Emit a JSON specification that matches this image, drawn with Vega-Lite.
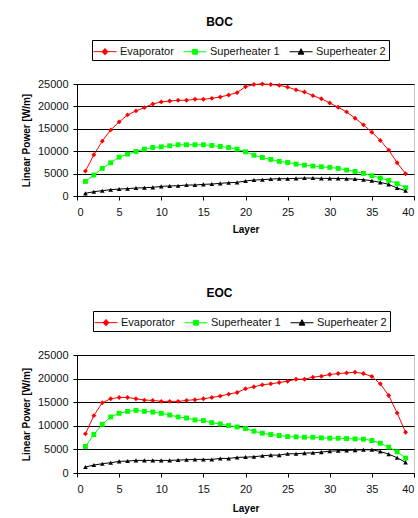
{
  "$schema": "https://vega.github.io/schema/vega-lite/v6.json",
  "padding": {"left": 20, "top": 15, "right": 0, "bottom": 0},
  "background": "white",
  "config": {
    "font": "Liberation Sans",
    "view": {"stroke": "#c8c8c8", "strokeWidth": 1},
    "title": {"font": "Liberation Sans", "fontSize": 12, "fontWeight": "bold", "color": "#000"},
    "axis": {
      "labelFont": "Liberation Sans", "labelFontSize": 11, "labelColor": "#111",
      "titleFont": "Liberation Sans", "titleFontSize": 10, "titleFontWeight": "bold", "titleColor": "#000",
      "domainColor": "#000", "tickColor": "#000", "tickSize": 4,
      "gridColor": "#000", "gridWidth": 1
    },
    "legend": {"labelFont": "Liberation Sans", "labelFontSize": 11, "labelColor": "#111"}
  },
  "data": {"values": [
    {"c":"BOC","s":"Evaporator","l":1,"p":5560},{"c":"BOC","s":"Evaporator","l":2,"p":9200},{"c":"BOC","s":"Evaporator","l":3,"p":12240},{"c":"BOC","s":"Evaporator","l":4,"p":14760},{"c":"BOC","s":"Evaporator","l":5,"p":16540},{"c":"BOC","s":"Evaporator","l":6,"p":18100},{"c":"BOC","s":"Evaporator","l":7,"p":19000},{"c":"BOC","s":"Evaporator","l":8,"p":19730},{"c":"BOC","s":"Evaporator","l":9,"p":20550},{"c":"BOC","s":"Evaporator","l":10,"p":21000},{"c":"BOC","s":"Evaporator","l":11,"p":21200},{"c":"BOC","s":"Evaporator","l":12,"p":21360},{"c":"BOC","s":"Evaporator","l":13,"p":21360},{"c":"BOC","s":"Evaporator","l":14,"p":21600},{"c":"BOC","s":"Evaporator","l":15,"p":21600},{"c":"BOC","s":"Evaporator","l":16,"p":21800},{"c":"BOC","s":"Evaporator","l":17,"p":22100},{"c":"BOC","s":"Evaporator","l":18,"p":22550},{"c":"BOC","s":"Evaporator","l":19,"p":23070},{"c":"BOC","s":"Evaporator","l":20,"p":24400},{"c":"BOC","s":"Evaporator","l":21,"p":24900},{"c":"BOC","s":"Evaporator","l":22,"p":25000},{"c":"BOC","s":"Evaporator","l":23,"p":24900},{"c":"BOC","s":"Evaporator","l":24,"p":24700},{"c":"BOC","s":"Evaporator","l":25,"p":24300},{"c":"BOC","s":"Evaporator","l":26,"p":23700},{"c":"BOC","s":"Evaporator","l":27,"p":23200},{"c":"BOC","s":"Evaporator","l":28,"p":22400},{"c":"BOC","s":"Evaporator","l":29,"p":21700},{"c":"BOC","s":"Evaporator","l":30,"p":20770},{"c":"BOC","s":"Evaporator","l":31,"p":19800},{"c":"BOC","s":"Evaporator","l":32,"p":18770},{"c":"BOC","s":"Evaporator","l":33,"p":17360},{"c":"BOC","s":"Evaporator","l":34,"p":15880},{"c":"BOC","s":"Evaporator","l":35,"p":14240},{"c":"BOC","s":"Evaporator","l":36,"p":12400},{"c":"BOC","s":"Evaporator","l":37,"p":10240},{"c":"BOC","s":"Evaporator","l":38,"p":7420},{"c":"BOC","s":"Evaporator","l":39,"p":4970},
    {"c":"BOC","s":"Superheater 1","l":1,"p":3260},{"c":"BOC","s":"Superheater 1","l":2,"p":4670},{"c":"BOC","s":"Superheater 1","l":3,"p":6160},{"c":"BOC","s":"Superheater 1","l":4,"p":7420},{"c":"BOC","s":"Superheater 1","l":5,"p":8680},{"c":"BOC","s":"Superheater 1","l":6,"p":9350},{"c":"BOC","s":"Superheater 1","l":7,"p":9940},{"c":"BOC","s":"Superheater 1","l":8,"p":10460},{"c":"BOC","s":"Superheater 1","l":9,"p":10830},{"c":"BOC","s":"Superheater 1","l":10,"p":10980},{"c":"BOC","s":"Superheater 1","l":11,"p":11200},{"c":"BOC","s":"Superheater 1","l":12,"p":11430},{"c":"BOC","s":"Superheater 1","l":13,"p":11430},{"c":"BOC","s":"Superheater 1","l":14,"p":11430},{"c":"BOC","s":"Superheater 1","l":15,"p":11430},{"c":"BOC","s":"Superheater 1","l":16,"p":11280},{"c":"BOC","s":"Superheater 1","l":17,"p":11050},{"c":"BOC","s":"Superheater 1","l":18,"p":10830},{"c":"BOC","s":"Superheater 1","l":19,"p":10460},{"c":"BOC","s":"Superheater 1","l":20,"p":9870},{"c":"BOC","s":"Superheater 1","l":21,"p":9120},{"c":"BOC","s":"Superheater 1","l":22,"p":8600},{"c":"BOC","s":"Superheater 1","l":23,"p":8160},{"c":"BOC","s":"Superheater 1","l":24,"p":7720},{"c":"BOC","s":"Superheater 1","l":25,"p":7490},{"c":"BOC","s":"Superheater 1","l":26,"p":7120},{"c":"BOC","s":"Superheater 1","l":27,"p":6900},{"c":"BOC","s":"Superheater 1","l":28,"p":6680},{"c":"BOC","s":"Superheater 1","l":29,"p":6530},{"c":"BOC","s":"Superheater 1","l":30,"p":6380},{"c":"BOC","s":"Superheater 1","l":31,"p":6160},{"c":"BOC","s":"Superheater 1","l":32,"p":5790},{"c":"BOC","s":"Superheater 1","l":33,"p":5490},{"c":"BOC","s":"Superheater 1","l":34,"p":5040},{"c":"BOC","s":"Superheater 1","l":35,"p":4530},{"c":"BOC","s":"Superheater 1","l":36,"p":4000},{"c":"BOC","s":"Superheater 1","l":37,"p":3490},{"c":"BOC","s":"Superheater 1","l":38,"p":2750},{"c":"BOC","s":"Superheater 1","l":39,"p":1850},
    {"c":"BOC","s":"Superheater 2","l":1,"p":590},{"c":"BOC","s":"Superheater 2","l":2,"p":960},{"c":"BOC","s":"Superheater 2","l":3,"p":1190},{"c":"BOC","s":"Superheater 2","l":4,"p":1410},{"c":"BOC","s":"Superheater 2","l":5,"p":1560},{"c":"BOC","s":"Superheater 2","l":6,"p":1630},{"c":"BOC","s":"Superheater 2","l":7,"p":1780},{"c":"BOC","s":"Superheater 2","l":8,"p":1850},{"c":"BOC","s":"Superheater 2","l":9,"p":1930},{"c":"BOC","s":"Superheater 2","l":10,"p":2150},{"c":"BOC","s":"Superheater 2","l":11,"p":2230},{"c":"BOC","s":"Superheater 2","l":12,"p":2300},{"c":"BOC","s":"Superheater 2","l":13,"p":2450},{"c":"BOC","s":"Superheater 2","l":14,"p":2450},{"c":"BOC","s":"Superheater 2","l":15,"p":2600},{"c":"BOC","s":"Superheater 2","l":16,"p":2670},{"c":"BOC","s":"Superheater 2","l":17,"p":2820},{"c":"BOC","s":"Superheater 2","l":18,"p":2970},{"c":"BOC","s":"Superheater 2","l":19,"p":3040},{"c":"BOC","s":"Superheater 2","l":20,"p":3340},{"c":"BOC","s":"Superheater 2","l":21,"p":3560},{"c":"BOC","s":"Superheater 2","l":22,"p":3640},{"c":"BOC","s":"Superheater 2","l":23,"p":3780},{"c":"BOC","s":"Superheater 2","l":24,"p":3860},{"c":"BOC","s":"Superheater 2","l":25,"p":3860},{"c":"BOC","s":"Superheater 2","l":26,"p":3930},{"c":"BOC","s":"Superheater 2","l":27,"p":4000},{"c":"BOC","s":"Superheater 2","l":28,"p":4000},{"c":"BOC","s":"Superheater 2","l":29,"p":3930},{"c":"BOC","s":"Superheater 2","l":30,"p":3930},{"c":"BOC","s":"Superheater 2","l":31,"p":3930},{"c":"BOC","s":"Superheater 2","l":32,"p":3860},{"c":"BOC","s":"Superheater 2","l":33,"p":3780},{"c":"BOC","s":"Superheater 2","l":34,"p":3640},{"c":"BOC","s":"Superheater 2","l":35,"p":3410},{"c":"BOC","s":"Superheater 2","l":36,"p":3040},{"c":"BOC","s":"Superheater 2","l":37,"p":2600},{"c":"BOC","s":"Superheater 2","l":38,"p":1780},{"c":"BOC","s":"Superheater 2","l":39,"p":1190},
    {"c":"EOC","s":"Evaporator","l":1,"p":8290},{"c":"EOC","s":"Evaporator","l":2,"p":12150},{"c":"EOC","s":"Evaporator","l":3,"p":14890},{"c":"EOC","s":"Evaporator","l":4,"p":15730},{"c":"EOC","s":"Evaporator","l":5,"p":16010},{"c":"EOC","s":"Evaporator","l":6,"p":16010},{"c":"EOC","s":"Evaporator","l":7,"p":15730},{"c":"EOC","s":"Evaporator","l":8,"p":15450},{"c":"EOC","s":"Evaporator","l":9,"p":15380},{"c":"EOC","s":"Evaporator","l":10,"p":15170},{"c":"EOC","s":"Evaporator","l":11,"p":15170},{"c":"EOC","s":"Evaporator","l":12,"p":15170},{"c":"EOC","s":"Evaporator","l":13,"p":15380},{"c":"EOC","s":"Evaporator","l":14,"p":15520},{"c":"EOC","s":"Evaporator","l":15,"p":15730},{"c":"EOC","s":"Evaporator","l":16,"p":16010},{"c":"EOC","s":"Evaporator","l":17,"p":16290},{"c":"EOC","s":"Evaporator","l":18,"p":16710},{"c":"EOC","s":"Evaporator","l":19,"p":17070},{"c":"EOC","s":"Evaporator","l":20,"p":17840},{"c":"EOC","s":"Evaporator","l":21,"p":18260},{"c":"EOC","s":"Evaporator","l":22,"p":18680},{"c":"EOC","s":"Evaporator","l":23,"p":18890},{"c":"EOC","s":"Evaporator","l":24,"p":19170},{"c":"EOC","s":"Evaporator","l":25,"p":19450},{"c":"EOC","s":"Evaporator","l":26,"p":19870},{"c":"EOC","s":"Evaporator","l":27,"p":19870},{"c":"EOC","s":"Evaporator","l":28,"p":20300},{"c":"EOC","s":"Evaporator","l":29,"p":20510},{"c":"EOC","s":"Evaporator","l":30,"p":20860},{"c":"EOC","s":"Evaporator","l":31,"p":21070},{"c":"EOC","s":"Evaporator","l":32,"p":21210},{"c":"EOC","s":"Evaporator","l":33,"p":21350},{"c":"EOC","s":"Evaporator","l":34,"p":21070},{"c":"EOC","s":"Evaporator","l":35,"p":20440},{"c":"EOC","s":"Evaporator","l":36,"p":18890},{"c":"EOC","s":"Evaporator","l":37,"p":16430},{"c":"EOC","s":"Evaporator","l":38,"p":12710},{"c":"EOC","s":"Evaporator","l":39,"p":8640},
    {"c":"EOC","s":"Superheater 1","l":1,"p":5620},{"c":"EOC","s":"Superheater 1","l":2,"p":8150},{"c":"EOC","s":"Superheater 1","l":3,"p":10320},{"c":"EOC","s":"Superheater 1","l":4,"p":11870},{"c":"EOC","s":"Superheater 1","l":5,"p":12640},{"c":"EOC","s":"Superheater 1","l":6,"p":13060},{"c":"EOC","s":"Superheater 1","l":7,"p":13270},{"c":"EOC","s":"Superheater 1","l":8,"p":13060},{"c":"EOC","s":"Superheater 1","l":9,"p":12920},{"c":"EOC","s":"Superheater 1","l":10,"p":12640},{"c":"EOC","s":"Superheater 1","l":11,"p":12290},{"c":"EOC","s":"Superheater 1","l":12,"p":11870},{"c":"EOC","s":"Superheater 1","l":13,"p":11660},{"c":"EOC","s":"Superheater 1","l":14,"p":11240},{"c":"EOC","s":"Superheater 1","l":15,"p":11100},{"c":"EOC","s":"Superheater 1","l":16,"p":10670},{"c":"EOC","s":"Superheater 1","l":17,"p":10390},{"c":"EOC","s":"Superheater 1","l":18,"p":10040},{"c":"EOC","s":"Superheater 1","l":19,"p":9760},{"c":"EOC","s":"Superheater 1","l":20,"p":9410},{"c":"EOC","s":"Superheater 1","l":21,"p":8850},{"c":"EOC","s":"Superheater 1","l":22,"p":8430},{"c":"EOC","s":"Superheater 1","l":23,"p":8150},{"c":"EOC","s":"Superheater 1","l":24,"p":7940},{"c":"EOC","s":"Superheater 1","l":25,"p":7720},{"c":"EOC","s":"Superheater 1","l":26,"p":7650},{"c":"EOC","s":"Superheater 1","l":27,"p":7580},{"c":"EOC","s":"Superheater 1","l":28,"p":7580},{"c":"EOC","s":"Superheater 1","l":29,"p":7440},{"c":"EOC","s":"Superheater 1","l":30,"p":7370},{"c":"EOC","s":"Superheater 1","l":31,"p":7370},{"c":"EOC","s":"Superheater 1","l":32,"p":7300},{"c":"EOC","s":"Superheater 1","l":33,"p":7230},{"c":"EOC","s":"Superheater 1","l":34,"p":7160},{"c":"EOC","s":"Superheater 1","l":35,"p":6880},{"c":"EOC","s":"Superheater 1","l":36,"p":6320},{"c":"EOC","s":"Superheater 1","l":37,"p":5480},{"c":"EOC","s":"Superheater 1","l":38,"p":4490},{"c":"EOC","s":"Superheater 1","l":39,"p":3160},
    {"c":"EOC","s":"Superheater 2","l":1,"p":1260},{"c":"EOC","s":"Superheater 2","l":2,"p":1690},{"c":"EOC","s":"Superheater 2","l":3,"p":1970},{"c":"EOC","s":"Superheater 2","l":4,"p":2180},{"c":"EOC","s":"Superheater 2","l":5,"p":2460},{"c":"EOC","s":"Superheater 2","l":6,"p":2530},{"c":"EOC","s":"Superheater 2","l":7,"p":2670},{"c":"EOC","s":"Superheater 2","l":8,"p":2670},{"c":"EOC","s":"Superheater 2","l":9,"p":2670},{"c":"EOC","s":"Superheater 2","l":10,"p":2670},{"c":"EOC","s":"Superheater 2","l":11,"p":2670},{"c":"EOC","s":"Superheater 2","l":12,"p":2740},{"c":"EOC","s":"Superheater 2","l":13,"p":2810},{"c":"EOC","s":"Superheater 2","l":14,"p":2880},{"c":"EOC","s":"Superheater 2","l":15,"p":2880},{"c":"EOC","s":"Superheater 2","l":16,"p":2880},{"c":"EOC","s":"Superheater 2","l":17,"p":3090},{"c":"EOC","s":"Superheater 2","l":18,"p":3090},{"c":"EOC","s":"Superheater 2","l":19,"p":3300},{"c":"EOC","s":"Superheater 2","l":20,"p":3370},{"c":"EOC","s":"Superheater 2","l":21,"p":3440},{"c":"EOC","s":"Superheater 2","l":22,"p":3650},{"c":"EOC","s":"Superheater 2","l":23,"p":3790},{"c":"EOC","s":"Superheater 2","l":24,"p":3790},{"c":"EOC","s":"Superheater 2","l":25,"p":4070},{"c":"EOC","s":"Superheater 2","l":26,"p":4070},{"c":"EOC","s":"Superheater 2","l":27,"p":4210},{"c":"EOC","s":"Superheater 2","l":28,"p":4280},{"c":"EOC","s":"Superheater 2","l":29,"p":4420},{"c":"EOC","s":"Superheater 2","l":30,"p":4630},{"c":"EOC","s":"Superheater 2","l":31,"p":4710},{"c":"EOC","s":"Superheater 2","l":32,"p":4780},{"c":"EOC","s":"Superheater 2","l":33,"p":4850},{"c":"EOC","s":"Superheater 2","l":34,"p":4920},{"c":"EOC","s":"Superheater 2","l":35,"p":4920},{"c":"EOC","s":"Superheater 2","l":36,"p":4560},{"c":"EOC","s":"Superheater 2","l":37,"p":4000},{"c":"EOC","s":"Superheater 2","l":38,"p":3230},{"c":"EOC","s":"Superheater 2","l":39,"p":2250}
  ]},
  "spacing": 51,
  "resolve": {"legend": {"color": "independent"}},
  "vconcat": [
    {
      "title": {"text": "BOC", "offset": 11, "dx": -26},
      "width": 337, "height": 112,
      "transform": [{"filter": "datum.c === 'BOC'"}],
      "encoding": {
        "x": {"field": "l", "type": "quantitative", "title": "Layer", "scale": {"domain": [0, 40], "nice": false},
              "axis": {"values": [0,5,10,15,20,25,30,35,40], "grid": false, "labelPadding": 6, "titlePadding": 7, "labelFlush": true}},
        "y": {"field": "p", "type": "quantitative", "title": "Linear Power [W/m]", "scale": {"domain": [0, 25000], "nice": false},
              "axis": {"values": [0,5000,10000,15000,20000,25000], "format": "d", "grid": true, "labelPadding": 5, "titlePadding": 6}}
      },
      "layer": [
        {"mark": {"type": "line", "strokeWidth": 1},
         "encoding": {"color": {"field": "s", "type": "nominal",
            "scale": {"domain": ["Evaporator", "Superheater 1", "Superheater 2"], "range": ["#ff0000", "#00ff00", "#000000"]},
            "legend": {"title": null, "orient": "none", "legendX": 15, "legendY": -44, "direction": "horizontal", "columns": 3,
              "strokeColor": "#000", "padding": 3, "columnPadding": 7, "symbolSize": 256, "labelOffset": 8,
              "encode": {"symbols": {"update": {
                "shape": {"signal": "datum.value === 'Evaporator' ? 'M-1.25,0H1.625M0.19,-0.4L0.55,0L0.19,0.4L-0.17,0Z' : datum.value === 'Superheater 1' ? 'M-1.25,0H1.625M-0.11,-0.3H0.49V0.3H-0.11Z' : 'M-1.25,0H1.625M0.19,-0.38L0.55,0.3H-0.17Z'"},
                "fill": {"signal": "datum.value === 'Evaporator' ? '#ff0000' : datum.value === 'Superheater 1' ? '#00ff00' : '#000000'"},
                "stroke": {"signal": "datum.value === 'Evaporator' ? '#ff0000' : datum.value === 'Superheater 1' ? '#00ff00' : '#000000'"},
                "strokeWidth": {"value": 1}, "opacity": {"value": 1}
              }}}}}}},
        {"transform": [{"filter": "datum.s === 'Evaporator'"}],
         "mark": {"type": "point", "filled": true, "size": 24, "opacity": 1, "shape": "diamond", "color": "#ff0000"}, "encoding": {}},
        {"transform": [{"filter": "datum.s === 'Superheater 1'"}],
         "mark": {"type": "point", "filled": true, "size": 24, "opacity": 1, "shape": "square", "color": "#00ff00"}, "encoding": {}},
        {"transform": [{"filter": "datum.s === 'Superheater 2'"}],
         "mark": {"type": "point", "filled": true, "size": 22, "opacity": 1, "shape": "triangle-up", "color": "#000000"}, "encoding": {}}
      ]
    },
    {
      "title": {"text": "EOC", "offset": 11, "dx": -26},
      "width": 337, "height": 118,
      "transform": [{"filter": "datum.c === 'EOC'"}],
      "encoding": {
        "x": {"field": "l", "type": "quantitative", "title": "Layer", "scale": {"domain": [0, 40], "nice": false},
              "axis": {"values": [0,5,10,15,20,25,30,35,40], "grid": false, "labelPadding": 6, "titlePadding": 9, "labelFlush": true}},
        "y": {"field": "p", "type": "quantitative", "title": "Linear Power [W/m]", "scale": {"domain": [0, 25000], "nice": false},
              "axis": {"values": [0,5000,10000,15000,20000,25000], "format": "d", "grid": true, "labelPadding": 5, "titlePadding": 6}}
      },
      "layer": [
        {"mark": {"type": "line", "strokeWidth": 1},
         "encoding": {"color": {"field": "s", "type": "nominal",
            "scale": {"domain": ["Evaporator", "Superheater 1", "Superheater 2"], "range": ["#ff0000", "#00ff00", "#000000"]},
            "legend": {"title": null, "orient": "none", "legendX": 16, "legendY": -44, "direction": "horizontal", "columns": 3,
              "strokeColor": "#000", "padding": 3, "columnPadding": 7, "symbolSize": 256, "labelOffset": 8,
              "encode": {"symbols": {"update": {
                "shape": {"signal": "datum.value === 'Evaporator' ? 'M-1.25,0H1.625M0.19,-0.4L0.55,0L0.19,0.4L-0.17,0Z' : datum.value === 'Superheater 1' ? 'M-1.25,0H1.625M-0.11,-0.3H0.49V0.3H-0.11Z' : 'M-1.25,0H1.625M0.19,-0.38L0.55,0.3H-0.17Z'"},
                "fill": {"signal": "datum.value === 'Evaporator' ? '#ff0000' : datum.value === 'Superheater 1' ? '#00ff00' : '#000000'"},
                "stroke": {"signal": "datum.value === 'Evaporator' ? '#ff0000' : datum.value === 'Superheater 1' ? '#00ff00' : '#000000'"},
                "strokeWidth": {"value": 1}, "opacity": {"value": 1}
              }}}}}}},
        {"transform": [{"filter": "datum.s === 'Evaporator'"}],
         "mark": {"type": "point", "filled": true, "size": 24, "opacity": 1, "shape": "diamond", "color": "#ff0000"}, "encoding": {}},
        {"transform": [{"filter": "datum.s === 'Superheater 1'"}],
         "mark": {"type": "point", "filled": true, "size": 24, "opacity": 1, "shape": "square", "color": "#00ff00"}, "encoding": {}},
        {"transform": [{"filter": "datum.s === 'Superheater 2'"}],
         "mark": {"type": "point", "filled": true, "size": 22, "opacity": 1, "shape": "triangle-up", "color": "#000000"}, "encoding": {}}
      ]
    }
  ]
}
